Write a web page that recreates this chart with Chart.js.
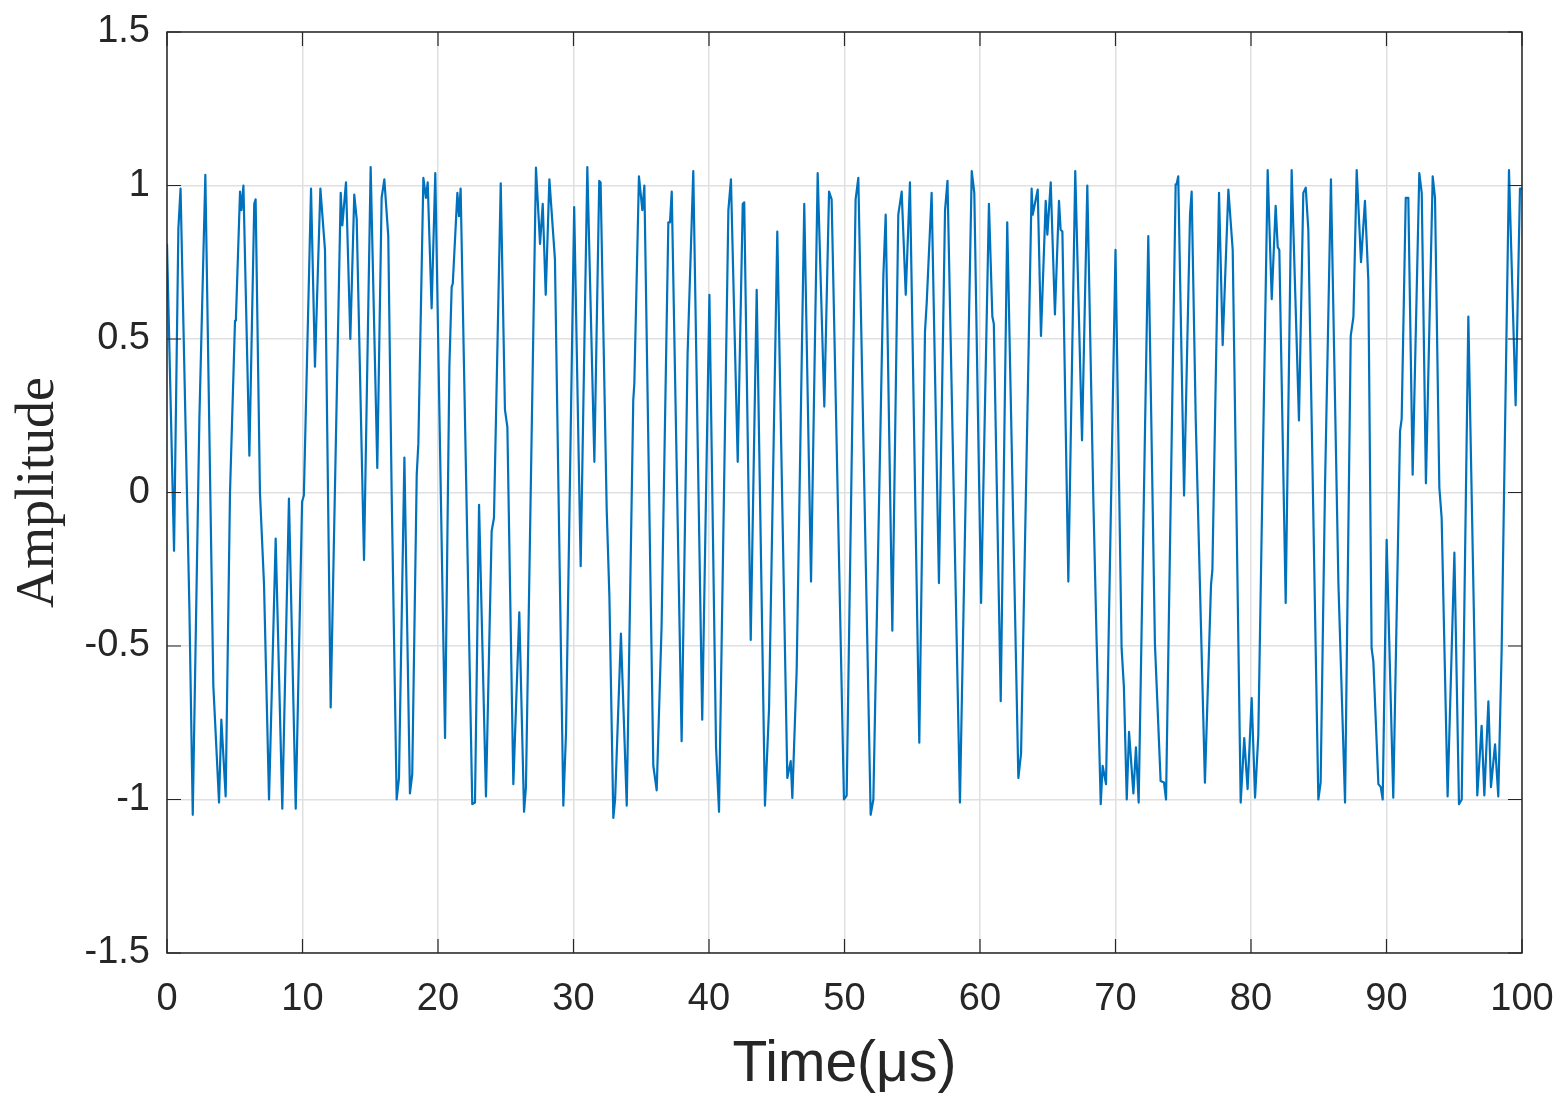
<!DOCTYPE html>
<html>
<head>
<meta charset="utf-8">
<title>Amplitude vs Time</title>
<script src="https://cdn.jsdelivr.net/npm/chart.js@4.4.1/dist/chart.umd.min.js"></script>
<style>
  html, body { margin: 0; padding: 0; background: #ffffff; }
  #wrap { width: 1562px; height: 1094px; }
</style>
</head>
<body>
<div id="wrap"><canvas id="c" width="1562" height="1094"></canvas></div>
<script>
// ---- data ----
const timeUs = [
  0, 0.52, 0.84, 1.0, 1.65, 1.9, 2.39, 2.83, 3.42, 3.84, 4.01, 4.33, 4.65, 5.02, 5.09, 5.39, 5.49, 5.64, 6.08, 6.44,
  6.54, 6.86, 7.16, 7.53, 8.02, 8.51, 9.0, 9.5, 9.97, 10.1, 10.63, 10.92, 11.32, 11.66, 12.08, 12.82, 12.94, 13.21, 13.53, 13.82,
  14.0, 14.54, 15.03, 15.52, 15.84, 16.04, 16.33, 16.58, 16.95, 17.12, 17.52, 17.93, 18.1, 18.43, 18.55, 18.92, 19.11, 19.24, 19.53, 19.8,
  20.52, 20.84, 21.01, 21.09, 21.43, 21.55, 21.67, 22.53, 22.73, 23.03, 23.54, 23.96, 24.13, 24.63, 24.94, 25.12, 25.56, 26.0, 26.35, 26.49,
  27.23, 27.53, 27.73, 27.95, 28.22, 28.63, 29.25, 29.45, 30.05, 30.53, 31.02, 31.54, 31.9, 32.0, 32.45, 32.65, 32.94, 33.07, 33.5, 33.93,
  34.41, 34.49, 34.83, 35.08, 35.23, 35.89, 36.14, 36.5, 37.0, 37.12, 37.25, 37.98, 38.42, 38.84, 39.5, 40.03, 40.52, 40.74, 41.43, 41.62,
  42.12, 42.49, 42.6, 43.08, 43.52, 44.13, 44.43, 45.04, 45.78, 46.03, 46.15, 46.47, 47.03, 47.53, 48.02, 48.51, 48.86, 49.05, 49.96, 50.16,
  50.82, 51.02, 51.93, 52.13, 52.87, 53.04, 53.53, 53.97, 54.22, 54.52, 54.83, 55.52, 55.94, 56.07, 56.43, 56.97, 57.42, 57.6, 58.52, 59.39,
  59.58, 60.08, 60.66, 60.91, 61.02, 61.53, 62.01, 62.83, 63.03, 63.81, 63.89, 64.26, 64.5, 64.85, 64.97, 65.22, 65.53, 65.83, 65.95, 66.08,
  66.52, 67.03, 67.53, 67.92, 68.36, 68.61, 68.91, 69.05, 69.3, 70.0, 70.45, 70.62, 70.83, 71.0, 71.32, 71.51, 71.71, 72.42, 72.91, 73.33,
  73.58, 73.73, 74.44, 74.51, 74.63, 75.06, 75.5, 75.62, 75.92, 76.6, 77.05, 77.15, 77.64, 77.91, 78.33, 78.65, 79.24, 79.5, 79.75, 80.05,
  80.3, 80.54, 81.23, 81.53, 81.82, 81.97, 82.09, 82.56, 83.0, 83.54, 83.86, 84.04, 84.23, 84.97, 85.14, 85.46, 85.9, 86.45, 86.94, 87.36,
  87.56, 87.8, 88.12, 88.41, 88.66, 88.9, 89.03, 89.4, 89.57, 89.72, 90.01, 90.5, 91.0, 91.12, 91.42, 91.61, 91.93, 92.42, 92.6, 92.91,
  93.41, 93.58, 93.9, 94.07, 94.51, 95.01, 95.35, 95.55, 96.04, 96.7, 97.02, 97.22, 97.52, 97.71, 98.01, 98.25, 98.5, 99.04, 99.53, 99.85,
  100
];
const amplitude = [
  0.81, -0.19, 0.86, 0.99, -0.37, -1.05, 0.24, 1.035, -0.63, -1.01, -0.74, -0.99, 0.0, 0.56, 0.57, 0.98, 0.92, 1.0, 0.12, 0.94,
  0.955, 0.0, -0.3, -1.0, -0.15, -1.03, -0.02, -1.03, -0.03, -0.01, 0.99, 0.41, 0.99, 0.79, -0.7, 0.976, 0.87, 1.01, 0.5, 0.97,
  0.89, -0.22, 1.06, 0.08, 0.96, 1.02, 0.835, 0.0, -1.0, -0.93, 0.114, -0.98, -0.917, 0.058, 0.16, 1.025, 0.96, 1.01, 0.6, 1.04,
  -0.8, 0.41, 0.67, 0.68, 0.976, 0.9, 0.99, -1.015, -1.01, -0.04, -0.99, -0.126, -0.083, 1.007, 0.27, 0.213, -0.95, -0.39, -1.04, -0.96,
  1.058, 0.81, 0.94, 0.644, 1.02, 0.76, -1.02, -0.78, 0.93, -0.24, 1.06, 0.1, 1.015, 1.01, -0.055, -0.34, -1.06, -1.0, -0.46, -1.02,
  0.3, 0.355, 1.03, 0.92, 1.0, -0.89, -0.97, -0.436, 0.88, 0.88, 0.98, -0.81, 0.45, 1.047, -0.74, 0.644, -0.83, -1.04, 0.92, 1.02,
  0.1, 0.94, 0.945, -0.48, 0.66, -1.02, -0.705, 0.85, -0.93, -0.875, -0.995, -0.578, 0.94, -0.29, 1.04, 0.28, 0.98, 0.955, -1.0, -0.987,
  0.955, 1.025, -1.05, -1.0, 0.708, 0.905, -0.45, 0.905, 0.98, 0.644, 1.01, -0.815, 0.524, 0.62, 0.976, -0.295, 0.92, 1.015, -1.01, 1.047,
  0.976, -0.36, 0.94, 0.573, 0.55, -0.68, 0.88, -0.93, -0.85, 0.99, 0.905, 0.987, 0.51, 0.95, 0.84, 1.01, 0.58, 0.95, 0.856, 0.85,
  -0.29, 1.047, 0.17, 1.0, -0.013, -0.49, -1.015, -0.89, -0.95, 0.79, -0.507, -0.634, -1.0, -0.78, -0.98, -0.83, -1.01, 0.835, -0.493, -0.94,
  -0.945, -1.0, 1.004, 1.004, 1.03, -0.01, 0.905, 0.98, 0.24, -0.945, -0.3, -0.253, 0.976, 0.48, 0.987, 0.79, -1.01, -0.8, -0.966, -0.67,
  -0.994, -0.79, 1.05, 0.63, 0.934, 0.8, 0.79, -0.36, 1.05, 0.235, 0.976, 0.993, 0.856, -1.0, -0.944, 0.015, 1.02, -0.295, -1.01, 0.51,
  0.573, 1.05, 0.75, 0.95, 0.69, -0.507, -0.55, -0.95, -0.959, -1.0, -0.154, -0.994, 0.2, 0.24, 0.96, 0.96, 0.058, 1.04, 0.976, 0.03,
  1.03, 0.96, 0.016, -0.083, -0.99, -0.196, -1.015, -1.0, 0.573, -0.987, -0.76, -0.987, -0.68, -0.96, -0.82, -0.99, -0.51, 1.05, 0.284, 0.99,
  0.99
];
const xTickValues = [0, 10, 20, 30, 40, 50, 60, 70, 80, 90, 100];
const yTickValues = [-1.5, -1, -0.5, 0, 0.5, 1, 1.5];
const xTitle = 'Time(μs)';
const yTitle = 'Amplitude';

// ---- chart ----
const points = timeUs.map((t, i) => ({ x: t, y: amplitude[i] }));
const AXIS_COLOR = '#262626';
const GRID_COLOR = '#e0e0e0';
const TICK_LEN = 14;

const whiteBg = {
  id: 'whiteBg',
  beforeDraw(chart) {
    const ctx = chart.ctx;
    ctx.save();
    ctx.fillStyle = '#ffffff';
    ctx.fillRect(0, 0, chart.width, chart.height);
    ctx.restore();
  }
};

const boxTicks = {
  id: 'boxTicks',
  afterDraw(chart) {
    const { ctx, chartArea: a, scales } = chart;
    ctx.save();
    ctx.strokeStyle = AXIS_COLOR;
    ctx.lineWidth = 1.5;
    ctx.beginPath();
    ctx.rect(a.left, a.top, a.right - a.left, a.bottom - a.top);
    ctx.stroke();
    ctx.lineWidth = 1.2;
    ctx.beginPath();
    xTickValues.forEach(v => {
      const px = scales.x.getPixelForValue(v);
      ctx.moveTo(px, a.bottom); ctx.lineTo(px, a.bottom - TICK_LEN);
      ctx.moveTo(px, a.top); ctx.lineTo(px, a.top + TICK_LEN);
    });
    yTickValues.forEach(v => {
      const py = scales.y.getPixelForValue(v);
      ctx.moveTo(a.left, py); ctx.lineTo(a.left + TICK_LEN, py);
      ctx.moveTo(a.right, py); ctx.lineTo(a.right - TICK_LEN, py);
    });
    ctx.stroke();
    ctx.restore();
  }
};

function zeroPad(s) {
  s.paddingLeft = 0; s.paddingRight = 0; s.paddingTop = 0; s.paddingBottom = 0;
}

new Chart(document.getElementById('c'), {
  type: 'line',
  data: {
    datasets: [{
      data: points,
      borderColor: '#0072BD',
      borderWidth: 2.2,
      pointRadius: 0,
      tension: 0,
      borderJoinStyle: 'round',
      fill: false
    }]
  },
  options: {
    responsive: false,
    devicePixelRatio: 1,
    animation: false,
    parsing: false,
    layout: { padding: { top: 32, right: 40, left: 0, bottom: 0 } },
    plugins: { legend: { display: false }, tooltip: { enabled: false } },
    scales: {
      x: {
        type: 'linear',
        min: 0, max: 100,
        afterBuildTicks: s => { s.ticks = xTickValues.map(v => ({ value: v })); },
        afterFit: s => { s.height = 141; zeroPad(s); },
        ticks: {
          callback: v => String(v),
          color: AXIS_COLOR,
          font: { family: 'Liberation Sans, Arial, sans-serif', size: 38 },
          padding: 24,
          maxRotation: 0,
          autoSkip: false
        },
        grid: { color: GRID_COLOR, lineWidth: 1.5, drawTicks: false },
        border: { display: false },
        title: {
          display: true,
          text: xTitle,
          color: AXIS_COLOR,
          font: { family: 'Liberation Sans, Arial, sans-serif', size: 57, lineHeight: 1.0 },
          padding: { top: 0, bottom: 0 }
        }
      },
      y: {
        type: 'linear',
        min: -1.5, max: 1.5,
        afterBuildTicks: s => { s.ticks = yTickValues.map(v => ({ value: v })); },
        afterFit: s => { s.width = 167; zeroPad(s); },
        ticks: {
          callback: v => String(v),
          color: AXIS_COLOR,
          font: { family: 'Liberation Sans, Arial, sans-serif', size: 38 },
          padding: 17,
          autoSkip: false
        },
        grid: { color: GRID_COLOR, lineWidth: 1.5, drawTicks: false },
        border: { display: false },
        title: {
          display: true,
          text: yTitle,
          color: AXIS_COLOR,
          font: { family: 'Liberation Serif, Times New Roman, serif', size: 54, lineHeight: 1.2 },
          padding: { top: 6, bottom: 0 }
        }
      }
    }
  },
  plugins: [whiteBg, boxTicks]
});
</script>
</body>
</html>
